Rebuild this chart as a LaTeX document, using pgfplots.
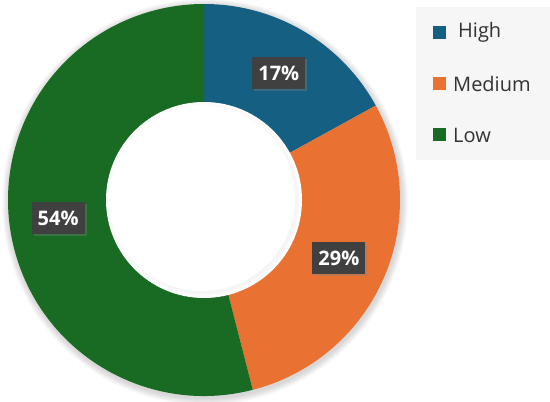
\documentclass[border=0pt]{standalone}
\usepackage{fontspec}
\setmainfont{Open Sans}
\usepackage{pgfplots}
\usepackage{pgfplotstable}
\pgfplotsset{compat=1.18}
\usetikzlibrary{shadows}

\definecolor{cHigh}{HTML}{156082}
\definecolor{cMedium}{HTML}{E97132}
\definecolor{cLow}{HTML}{196B24}
\definecolor{boxgray}{HTML}{404040}
\definecolor{legtext}{HTML}{333333}
\definecolor{panel}{HTML}{F6F6F6}

% share of each category, in percent
\pgfplotstableread{
label value
High 17
Medium 29
Low 54
}\donutdata

\begin{document}
\begin{tikzpicture}
\pgfplotstablegetelem{0}{value}\of\donutdata \let\vHigh\pgfplotsretval
\pgfplotstablegetelem{1}{value}\of\donutdata \let\vMed\pgfplotsretval
\pgfplotstablegetelem{2}{value}\of\donutdata \let\vLow\pgfplotsretval
% angles, clockwise from the top
\pgfmathsetmacro{\aA}{90}
\pgfmathsetmacro{\aB}{\aA-3.6*\vHigh}
\pgfmathsetmacro{\aC}{\aB-3.6*\vMed}
\pgfmathsetmacro{\aD}{\aC-3.6*\vLow}
\pgfmathsetmacro{\mA}{(\aA+\aB)/2}
\pgfmathsetmacro{\mB}{(\aB+\aC)/2}
\pgfmathsetmacro{\mC}{(\aC+\aD)/2}
\def\Ro{196}
\def\Ri{98}
\def\Rl{147}
\begin{axis}[
    width=550pt, height=402pt, scale only axis,
    xmin=-204, xmax=346, ymin=-202, ymax=200,
    hide axis, clip=false,
]
% soft shadow round the ring
\pgfplotsinvokeforeach{1,...,7}{
  \fill[black, opacity=0.025] (axis cs:1,-2) circle[radius={\Ro+#1}];
}
\fill[cHigh]   (axis cs:0,0) -- (axis cs:{\Ro*cos(\aA)},{\Ro*sin(\aA)}) arc[start angle=\aA, end angle=\aB, radius=\Ro] -- cycle;
\fill[cMedium] (axis cs:0,0) -- (axis cs:{\Ro*cos(\aB)},{\Ro*sin(\aB)}) arc[start angle=\aB, end angle=\aC, radius=\Ro] -- cycle;
\fill[cLow]    (axis cs:0,0) -- (axis cs:{\Ro*cos(\aC)},{\Ro*sin(\aC)}) arc[start angle=\aC, end angle=\aD, radius=\Ro] -- cycle;
% hole with a faint inner shadow
\fill[white] (axis cs:0,0) circle[radius=\Ri];
\pgfplotsinvokeforeach{1,...,5}{
  \fill[white!88!black, opacity=0.06] (axis cs:0,0) circle[radius={\Ri-#1}];
}
\fill[white] (axis cs:-2,2) circle[radius={\Ri-5}];

% value labels
\tikzset{vlab/.style={fill=boxgray, text=white, font=\bfseries\fontsize{20}{24}\selectfont,
    minimum width=53pt, minimum height=32pt, inner sep=0pt,
    drop shadow={shadow xshift=2pt, shadow yshift=-2pt, opacity=0.35}}}
\node[vlab] at (axis cs:{\Rl*cos(\mA)},{\Rl*sin(\mA)}) {17\%};
\node[vlab] at (axis cs:{\Rl*cos(\mB)},{\Rl*sin(\mB)}) {29\%};
\node[vlab] at (axis cs:{\Rl*cos(\mC)},{\Rl*sin(\mC)}) {54\%};

% legend
\fill[panel] (axis cs:212,40) rectangle (axis cs:346,193);
\fill[cHigh]   (axis cs:228.5,161) rectangle (axis cs:241.5,174);
\fill[cMedium] (axis cs:228.5,109.5) rectangle (axis cs:241.5,122.5);
\fill[cLow]    (axis cs:228.5,58.5) rectangle (axis cs:241.5,71.5);
\tikzset{ltxt/.style={anchor=west, inner sep=0pt, text=legtext, font=\fontsize{20}{24}\selectfont}}
\node[ltxt] at (axis cs:254,167.5) {High};
\node[ltxt] at (axis cs:249,116) {Medium};
\node[ltxt] at (axis cs:249,65) {Low};
\end{axis}
\pgfresetboundingbox
\path (current axis.south west) rectangle (current axis.north east);
\end{tikzpicture}
\end{document}
